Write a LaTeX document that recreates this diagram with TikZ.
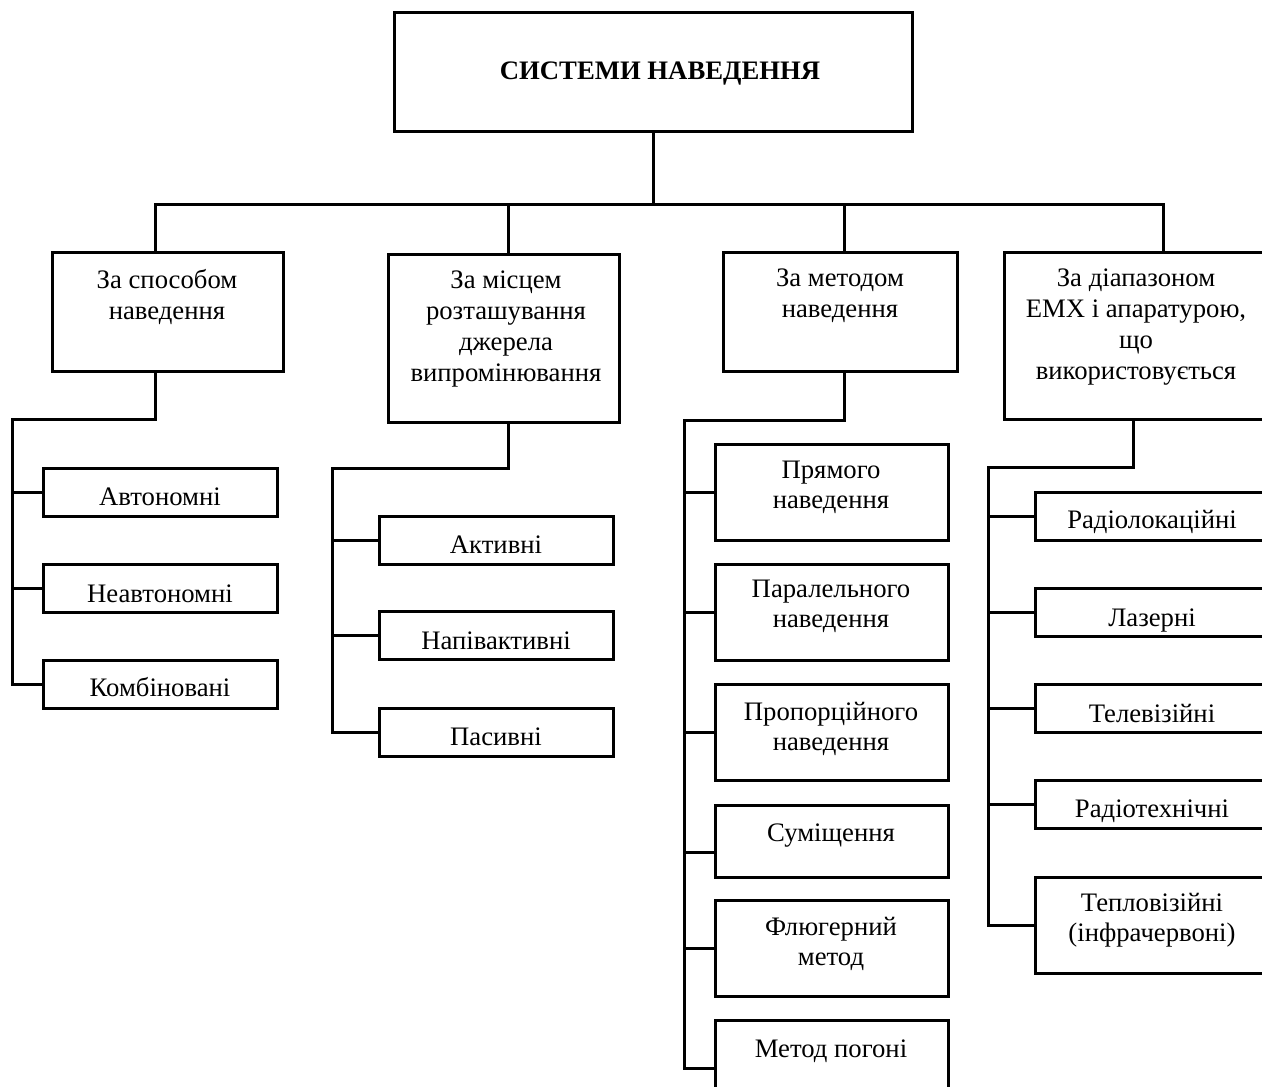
\documentclass[tikz,border=0pt]{standalone}
\usepackage{fontspec}
\setmainfont{Liberation Serif}
\begin{document}
\begin{tikzpicture}[x=1pt,y=-1pt,
  box/.style={draw, line width=3pt, rectangle, inner sep=0pt, outer sep=0pt},
  txt/.style={anchor=north, inner sep=0pt, outer sep=0pt, align=center,
    font=\fontsize{26.7}{30}\selectfont, execute at begin node={\rule{0pt}{20pt}}},
  txtw/.style={txt, font=\fontsize{26.7}{31}\selectfont},
  ln/.style={line width=3pt}]
\useasboundingbox (0,0) rectangle (1262,1087);
\clip (0,0) rectangle (1262,1087);

% top
\node[box, minimum width=518pt, minimum height=119pt] (top) at (653,71.5) {};
\node[txt, font=\fontsize{26.7}{30}\selectfont\bfseries] (topt) at (660,59) {СИСТЕМИ НАВЕДЕННЯ};

% level 1
\node[box, minimum width=231pt, minimum height=119pt] (b1) at (167.5,311.5) {};
\node[box, minimum width=231pt, minimum height=168pt] (b2) at (503.5,338) {};
\node[box, minimum width=234pt, minimum height=119pt] (b3) at (840,311.5) {};
\node[box, minimum width=264pt, minimum height=167pt] (b4) at (1136,335.5) {};
\node[txtw] (b1t) at (167,269) {За способом\\наведення};
\node[txtw] (b2t) at (506,271) {За місцем\\розташування\\джерела\\випромінювання};
\node[txtw] (b3t) at (840,269) {За методом\\наведення};
\node[txtw] (b4t) at (1136,269) {За діапазоном\\ЕМХ і апаратурою,\\що\\використовується};

% column 1
\node[box, minimum width=234pt, minimum height=48pt] (a11) at (160,492) {};
\node[box, minimum width=234pt, minimum height=48pt] (a12) at (160,588) {};
\node[box, minimum width=234pt, minimum height=48pt] (a13) at (160,684) {};
\node[txt] (a11t) at (160,485) {Автономні};
\node[txt] (a12t) at (160,582) {Неавтономні};
\node[txt] (a13t) at (160,676) {Комбіновані};

% column 2
\node[box, minimum width=234pt, minimum height=48pt] (a21) at (496,540) {};
\node[box, minimum width=234pt, minimum height=48pt] (a22) at (496,635) {};
\node[box, minimum width=234pt, minimum height=48pt] (a23) at (496,732) {};
\node[txt] (a21t) at (496,533) {Активні};
\node[txt] (a22t) at (496,629) {Напівактивні};
\node[txt] (a23t) at (496,725) {Пасивні};

% column 3
\node[box, minimum width=233pt, minimum height=96pt] (a31) at (831.5,492) {};
\node[box, minimum width=233pt, minimum height=96pt] (a32) at (831.5,612) {};
\node[box, minimum width=233pt, minimum height=96pt] (a33) at (831.5,732) {};
\node[box, minimum width=233pt, minimum height=72pt] (a34) at (831.5,841) {};
\node[box, minimum width=233pt, minimum height=96pt] (a35) at (831.5,948) {};
\node[box, minimum width=233pt, minimum height=96pt] (a36) at (831.5,1068) {};
\node[txt] (a31t) at (831,461) {Прямого\\наведення};
\node[txt] (a32t) at (831,580) {Паралельного\\наведення};
\node[txt] (a33t) at (831,702) {Пропорційного\\наведення};
\node[txt] (a34t) at (831,821) {Суміщення};
\node[txt] (a35t) at (831,917) {Флюгерний\\метод};
\node[txt] (a36t) at (831,1037) {Метод погоні};

% column 4
\node[box, minimum width=233pt, minimum height=48pt] (a41) at (1151.5,516) {};
\node[box, minimum width=233pt, minimum height=48pt] (a42) at (1151.5,612) {};
\node[box, minimum width=233pt, minimum height=48pt] (a43) at (1151.5,708) {};
\node[box, minimum width=233pt, minimum height=48pt] (a44) at (1151.5,804) {};
\node[box, minimum width=233pt, minimum height=96pt] (a45) at (1151.5,925) {};
\node[txt] (a41t) at (1152,508) {Радіолокаційні};
\node[txt] (a42t) at (1152,606) {Лазерні};
\node[txt] (a43t) at (1152,702) {Телевізійні};
\node[txt] (a44t) at (1152,797) {Радіотехнічні};
\node[txt] (a45t) at (1152,893) {Тепловізійні\\(інфрачервоні)};

% bus
\coordinate (busL) at (155,204);
\coordinate (busR) at (1163,204);
\coordinate (d2) at (508,204);
\coordinate (d3) at (844,204);
\draw[ln] (top.south) -- (top.south |- busL);
\draw[ln] (busL |- b1.north) -- (busL) -- (busR) -- (busR |- b4.north);
\draw[ln] (d2) -- (d2 |- b2.north);
\draw[ln] (d3) -- (d3 |- b3.north);

% column 1 connectors
\coordinate (k1) at (155,419);
\coordinate (r1) at (12,419);
\draw[ln] (k1 |- b1.south) -- (k1) -- (r1) -- (r1 |- a13.west) -- (a13.west);
\draw[ln] (r1 |- a11.west) -- (a11.west);
\draw[ln] (r1 |- a12.west) -- (a12.west);

% column 2 connectors
\coordinate (k2) at (508,468);
\coordinate (r2) at (332,468);
\draw[ln] (k2 |- b2.south) -- (k2) -- (r2) -- (r2 |- a23.west) -- (a23.west);
\draw[ln] (r2 |- a21.west) -- (a21.west);
\draw[ln] (r2 |- a22.west) -- (a22.west);

% column 3 connectors
\coordinate (k3) at (844,420);
\coordinate (r3) at (684,420);
\coordinate (s34) at (715,852);
\draw[ln] (k3 |- b3.south) -- (k3) -- (r3) -- (r3 |- a36.west) -- (a36.west);
\draw[ln] (r3 |- a31.west) -- (a31.west);
\draw[ln] (r3 |- a32.west) -- (a32.west);
\draw[ln] (r3 |- a33.west) -- (a33.west);
\draw[ln] (r3 |- s34) -- (s34);
\draw[ln] (r3 |- a35.west) -- (a35.west);

% column 4 connectors
\coordinate (k4) at (1133,467);
\coordinate (r4) at (988,467);
\draw[ln] (k4 |- b4.south) -- (k4) -- (r4) -- (r4 |- a45.west) -- (a45.west);
\draw[ln] (r4 |- a41.west) -- (a41.west);
\draw[ln] (r4 |- a42.west) -- (a42.west);
\draw[ln] (r4 |- a43.west) -- (a43.west);
\draw[ln] (r4 |- a44.west) -- (a44.west);
\end{tikzpicture}
\end{document}
